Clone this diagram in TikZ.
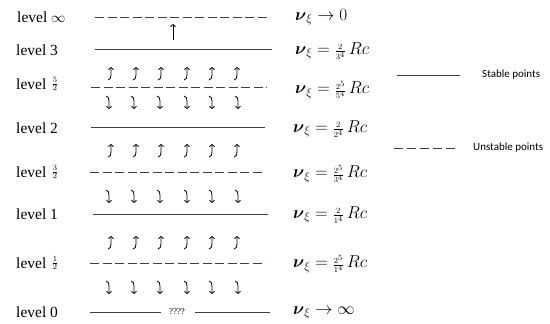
\documentclass[tikz,border=0pt]{standalone}
\usepackage{fontspec}
\usepackage{amsmath}
\setmainfont{Liberation Serif}
\newfontfamily\legendfont{Carlito}
\usetikzlibrary{arrows.meta}
\newcommand{\sfr}[2]{{\scriptstyle\frac{#1}{#2}}}
\newcommand{\nux}{\boldsymbol{\nu}_{\xi}}
\begin{document}
\begin{tikzpicture}[x=1pt,y=-1pt,
  lvl/.style={anchor=west,font=\fontsize{15.5}{18}\selectfont,inner sep=0pt},
  lfrac/.style={anchor=west,font=\fontsize{16}{18}\selectfont,inner sep=0pt},
  frm/.style={anchor=west,font=\fontsize{16.5}{20}\selectfont,inner sep=0pt},
  leg/.style={anchor=west,font=\legendfont\fontsize{11}{13}\selectfont,inner sep=0pt},
  stab/.style={draw=black!75,line width=0.9pt},
  unstab/.style={draw=black!75,line width=0.9pt,dash pattern=on 9pt off 3.5pt},
  arr/.style={-{To[length=3pt,width=5.5pt]},line width=0.8pt},
]
\useasboundingbox (0,0) rectangle (550,324);

% level labels
\node[lvl] (Linf) at (17,17)  {level $\infty$};
\node[lvl] (L3)   at (16,50)  {level 3};
\node[lvl] (L52)  at (16,84)  {level};
\node[lfrac] (F52l) at ([xshift=5pt]L52.east) {$\sfr{5}{2}$};
\node[lvl] (L2)   at (16,128) {level 2};
\node[lvl] (L32)  at (16,172) {level};
\node[lfrac] (F32l) at ([xshift=5pt]L32.east) {$\sfr{3}{2}$};
\node[lvl] (L1)   at (16,214) {level 1};
\node[lvl] (L12)  at (16,263) {level};
\node[lfrac] (F12l) at ([xshift=5pt]L12.east) {$\sfr{1}{2}$};
\node[lvl] (L0)   at (16,312) {level 0};

% lines
\coordinate (ia) at (95,17);  \coordinate (ib) at (270,17);
\coordinate (a3) at (95,49);  \coordinate (b3) at (272,49);
\coordinate (a52) at (91,87); \coordinate (b52) at (267,87);
\coordinate (a2) at (91,127); \coordinate (b2) at (265,127);
\coordinate (a32) at (90,172);\coordinate (b32) at (263,172);
\coordinate (a1) at (93,214); \coordinate (b1) at (268,214);
\coordinate (a12) at (90,263);\coordinate (b12) at (265,263);
\coordinate (a0) at (90,312); \coordinate (b0) at (270,312);
\draw[unstab] (ia) -- (ib);
\draw[stab] (a3) -- (b3);
\draw[unstab] (a52) -- (b52);
\draw[stab] (a2) -- (b2);
\draw[unstab] (a32) -- (b32);
\draw[stab] (a1) -- (b1);
\draw[unstab] (a12) -- (b12);
\node[font=\fontsize{9}{10}\selectfont,inner sep=1pt,fill=white] (q) at (177,312) {????};
\draw[stab] (a0) -- (q.west -| 161,312);
\draw[stab] (q.east -| 195,312) -- (b0);

% single arrow
\coordinate (s1) at (173,40); \coordinate (s2) at (173,24);
\draw[arr] (s1) -- (s2);

% curly arrows
\foreach \y in {73,150,242} {
  \foreach \x in {111,136,161,187,212,237} {
    \draw[arr] (\x-3,\y+7) to[out=0,in=-90] (\x,\y+2) -- (\x,\y-6);
  }
}
\foreach \y in {103,197,288} {
  \foreach \x in {109,134,160,187,212,238} {
    \draw[arr] (\x-3,\y-7) to[out=0,in=90] (\x,\y-2) -- (\x,\y+6);
  }
}

% formulas
\node[frm] (Finf) at (295,17)  {$\nux \to 0$};
\node[frm] (F3)   at (295,51)  {$\nux = \sfr{2}{3^4}\,Rc$};
\node[frm] (F52)  at (295,90)  {$\nux = \sfr{2^5}{5^4}\,Rc$};
\node[frm] (F2)   at (293,129) {$\nux = \sfr{2}{2^4}\,Rc$};
\node[frm] (F32)  at (293,174) {$\nux = \sfr{2^5}{3^4}\,Rc$};
\node[frm] (F1)   at (293,215) {$\nux = \sfr{2}{1^4}\,Rc$};
\node[frm] (F12)  at (293,264) {$\nux = \sfr{2^5}{1^4}\,Rc$};
\node[frm] (F0)   at (293,313) {$\nux \to \infty$};

% legend
\coordinate (ls1) at (397,75); \coordinate (ls2) at (460,75);
\draw[stab] (ls1) -- (ls2);
\node[leg] (stab) at (482,75) {Stable points};
\coordinate (lu1) at (394,148); \coordinate (lu2) at (458,148);
\draw[unstab,dash pattern=on 9pt off 4pt] (lu1) -- (lu2);
\node[leg] (unstab) at (473,148) {Unstable points};
\end{tikzpicture}
\end{document}
